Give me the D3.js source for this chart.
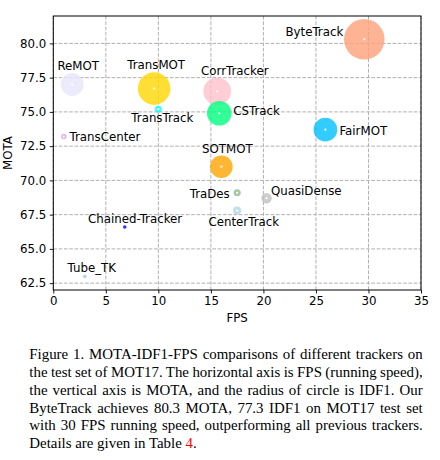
<!DOCTYPE html>
<html><head><meta charset="utf-8">
<script src="https://cdn.jsdelivr.net/npm/d3@7"></script>
<style>body{margin:0;background:#fff} svg{display:block}</style>
</head><body><svg id="c" width="440" height="460"></svg>
<script>
// ---- data ----
const trackers = ["ByteTrack","ReMOT","TransMOT","CorrTracker","TransTrack","CSTrack","FairMOT","TransCenter","SOTMOT","TraDes","QuasiDense","CenterTrack","Chained-Tracker","Tube_TK"];
const fps  = [29.6, 1.8, 9.6, 15.6, 10.0, 15.8, 25.9, 1.0, 16.0, 17.5, 20.3, 17.5, 6.8, 3.0];
const mota = [80.3, 77.0, 76.7, 76.5, 75.2, 74.9, 73.7, 73.2, 71.0, 69.1, 68.7, 67.8, 66.6, 63.0];
const idf1 = [77.3, 72.0, 75.1, 73.6, 63.5, 72.6, 72.3, 62.2, 71.9, 63.9, 66.3, 64.7, 57.4, 58.6];
const xTicks = [0, 5, 10, 15, 20, 25, 30, 35];
const yTicks = [62.5, 65.0, 67.5, 70.0, 72.5, 75.0, 77.5, 80.0];

// ---- styles / layout ----
const colors = ["#FFA07A","#E6E6FA","#FFD700","#FFC0CB","#00FFFF","#00FF7F","#00BFFF","#DDA0DD","#FFA500","#8FBC8F","#C0C0C0","#ADD8E6","#0000FF","#B0C4DE"];
// label placement relative to marker centre: [text-anchor, dx, dy(of text centre)]
const labelLayout = {
  "ByteTrack":["end",-21,-8], "ReMOT":["middle",6,-19.3], "TransMOT":["middle",2,-23.6],
  "CorrTracker":["middle",17.6,-20.7], "TransTrack":["middle",4,8.4], "CSTrack":["start",14,-2.7],
  "FairMOT":["start",14,0.7], "TransCenter":["start",5.7,0], "SOTMOT":["middle",6,-18.3],
  "TraDes":["end",-7.4,0.7], "QuasiDense":["start",4.4,-8], "CenterTrack":["middle",6.6,10.7],
  "Chained-Tracker":["middle",10.4,-8.4], "Tube_TK":["middle",7,-8.3]
};
const FONT = "DejaVu Sans, sans-serif";
const FS = 11.8;

const svg = d3.select("#c");
const L = 53.3, R = 421, T = 16, B = 290;
const x = d3.scaleLinear().domain([0, 35]).range([L, R]);
const y = d3.scaleLinear().domain([62, 82]).range([B, T]);
const u = d3.scaleLinear().domain([d3.min(idf1), d3.max(idf1)]).range([0, 1]);
const rPow = d3.scalePow().exponent(2.1).domain([0, 1]).range([1.8, 20.3]);
const r = v => rPow(u(v));

// grid
const g = svg.append("g");
g.selectAll("line.vx").data(xTicks).join("line")
  .attr("x1", d => x(d)).attr("x2", d => x(d)).attr("y1", T).attr("y2", B)
  .attr("stroke", "#b0b0b0").attr("stroke-width", 1).attr("stroke-dasharray", "3.7,1.6");
g.selectAll("line.hy").data(yTicks).join("line")
  .attr("y1", d => y(d)).attr("y2", d => y(d)).attr("x1", L).attr("x2", R)
  .attr("stroke", "#b0b0b0").attr("stroke-width", 1).attr("stroke-dasharray", "3.7,1.6");

// markers
const pts = trackers.map((n, i) => ({n, fps: fps[i], mota: mota[i], idf1: idf1[i], c: colors[i]}));
svg.append("g").selectAll("circle").data(pts).join("circle")
  .attr("cx", d => x(d.fps)).attr("cy", d => y(d.mota)).attr("r", d => r(d.idf1))
  .attr("fill", d => d.c).attr("fill-opacity", 0.8);
svg.append("g").selectAll("circle").data(pts.filter(d => r(d.idf1) > 2.5)).join("circle")
  .attr("cx", d => x(d.fps)).attr("cy", d => y(d.mota)).attr("r", 1.1).attr("fill", "#fff");

// labels
svg.append("g").selectAll("text").data(pts).join("text")
  .attr("x", d => x(d.fps) + labelLayout[d.n][1])
  .attr("y", d => y(d.mota) + labelLayout[d.n][2] + 4.3)
  .attr("text-anchor", d => labelLayout[d.n][0])
  .attr("font-family", FONT).attr("font-size", FS).attr("fill", "#000")
  .text(d => d.n);

// axes
const ax = svg.append("g").attr("transform", `translate(0,${B})`)
  .call(d3.axisBottom(x).tickValues(xTicks).tickFormat(d3.format("d")).tickSize(3.5).tickPadding(3.5));
const ay = svg.append("g").attr("transform", `translate(${L},0)`)
  .call(d3.axisLeft(y).tickValues(yTicks).tickFormat(d3.format(".1f")).tickSize(3.5).tickPadding(3.5));
[ax, ay].forEach(a => {
  a.select(".domain").remove();
  a.selectAll("text").attr("font-family", FONT).attr("font-size", FS).attr("fill", "#000");
  a.selectAll("line").attr("stroke", "#000").attr("stroke-width", 0.9);
});
svg.append("rect").attr("x", L).attr("y", T).attr("width", R - L).attr("height", B - T)
  .attr("fill", "none").attr("stroke", "#000").attr("stroke-width", 1);

svg.append("text").attr("x", (L + R) / 2).attr("y", 321.5).attr("text-anchor", "middle")
  .attr("font-family", FONT).attr("font-size", FS).text("FPS");
svg.append("text").attr("transform", `translate(12.2,${(T + B) / 2}) rotate(-90)`).attr("text-anchor", "middle")
  .attr("font-family", FONT).attr("font-size", FS).text("MOTA");

// caption
const capLines = [
  "Figure 1. MOTA-IDF1-FPS comparisons of different trackers on",
  "the test set of MOT17. The horizontal axis is FPS (running speed),",
  "the vertical axis is MOTA, and the radius of circle is IDF1. Our",
  "ByteTrack achieves 80.3 MOTA, 77.3 IDF1 on MOT17 test set",
  "with 30 FPS running speed, outperforming all previous trackers."
];
const CX = 29.3, CW = 393.4, CY = 358.8, LH = 17.9, CFS = 14.9;
capLines.forEach((ln, i) => {
  const t = svg.append("text").attr("x", CX).attr("y", CY + i * LH)
    .attr("font-family", "Liberation Serif, Times New Roman, serif").attr("font-size", CFS).attr("fill", "#000")
    .text(ln);
  const w = t.node().getComputedTextLength();
  const n = ln.split(" ").length - 1;
  t.attr("word-spacing", (CW - w) / n);
});
const last = svg.append("text").attr("x", CX).attr("y", CY + 5 * LH)
  .attr("font-family", "Liberation Serif, Times New Roman, serif").attr("font-size", CFS).attr("fill", "#000");
last.append("tspan").text("Details are given in Table ");
last.append("tspan").attr("fill", "#ff0000").text("4");
last.append("tspan").text(".");
</script></body></html>
